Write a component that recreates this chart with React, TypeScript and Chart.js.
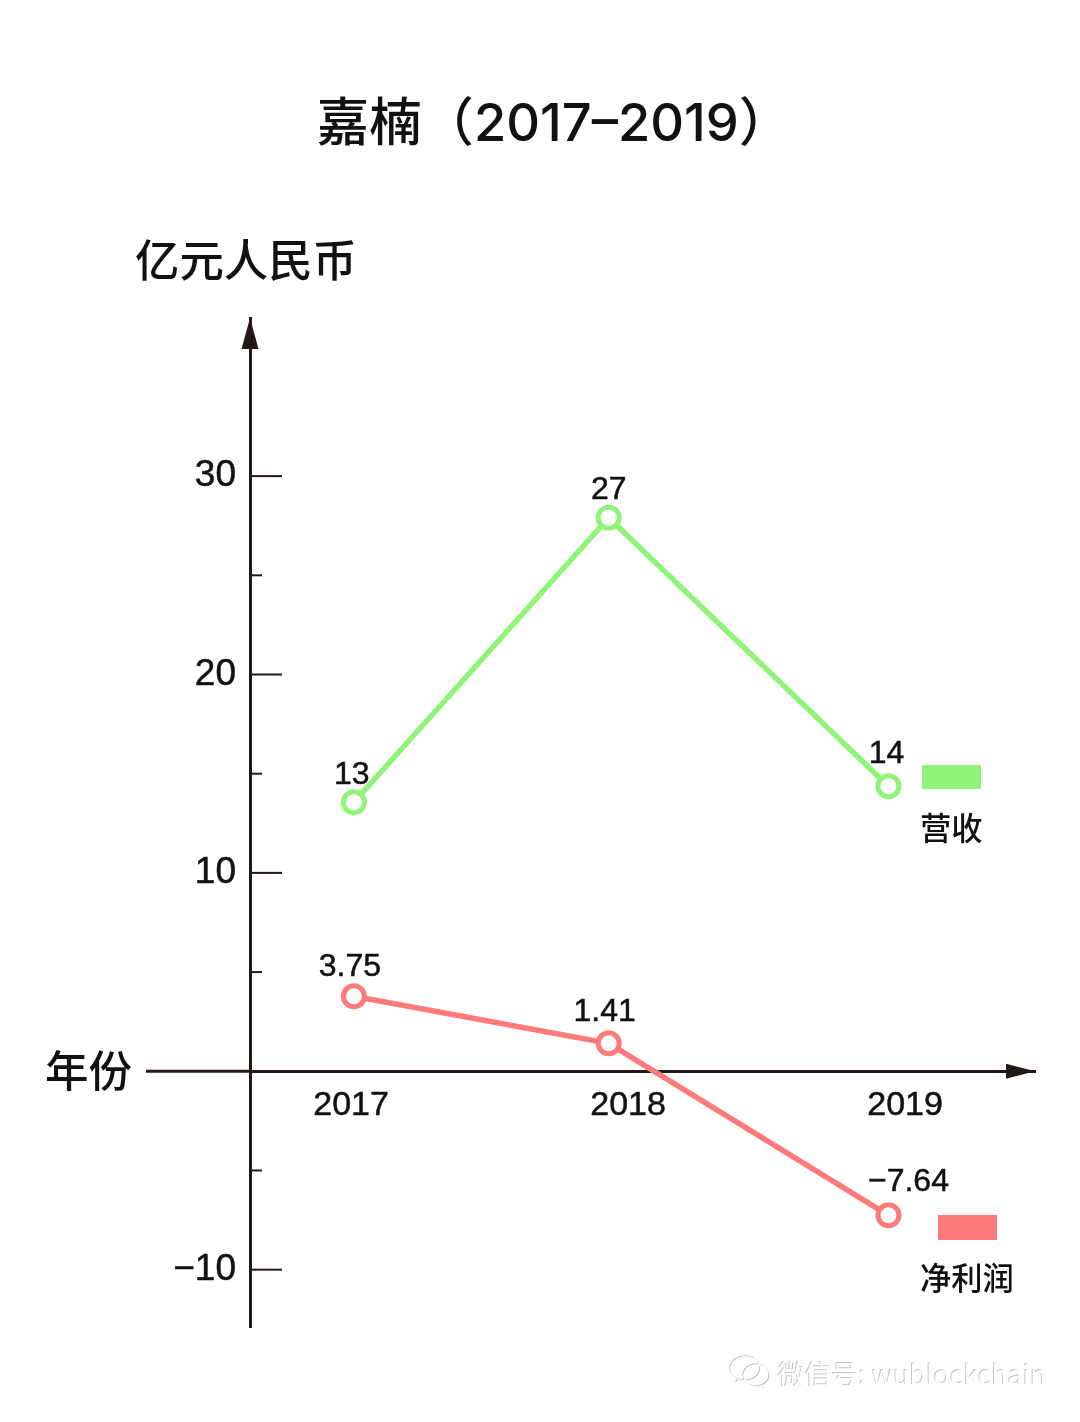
import React, { useEffect, useRef } from "react";
import { Chart, registerables } from "chart.js";

Chart.register(...registerables);

const titleText = "嘉楠（2017–2019）";
const yAxisTitle = "亿元人民币";
const xAxisTitle = "年份";
const pointYears = [2017.01, 2017.93, 2018.94];
const revenue = [13.56, 27.9, 14.37];
const profit = [3.78, 1.41, -7.26];
const revenueLabels = ["13", "27", "14"];
const profitLabels = ["3.75", "1.41", "−7.64"];
const revenueName = "营收";
const profitName = "净利润";
const yTicks = [-10, -5, 0, 5, 10, 15, 20, 25, 30];
const xTicks = [2017, 2018, 2019];
const watermark = "微信号: wublockchain";

const GREEN = "#90F47A";
const RED = "#FF7A7A";
const AXIS = "#231815";
const LATIN = '"Liberation Sans"';
const CJK = '"Noto Sans CJK SC"';

const labelOffsets = [
  [[-2, -27], [0, -28], [-2, -32]],
  [[-4, -29], [-4, -31], [20, -33]],
];

const decorations = {
  id: "decorations",
  afterDraw(chart: any) {
    const { ctx, scales, chartArea } = chart;
    const y = scales.y;
    const axisX = chartArea.left;
    const axisY = y.getPixelForValue(0);
    ctx.save();

    // title
    ctx.fillStyle = "#111";
    ctx.textBaseline = "middle";
    ctx.textAlign = "center";
    ctx.font = `500 52.4px Inter, ${CJK}`;
    ctx.fillText(titleText, 554, 125);

    // x-axis line continues left of the y axis
    ctx.strokeStyle = AXIS;
    ctx.lineWidth = 3;
    ctx.beginPath();
    ctx.moveTo(146, axisY);
    ctx.lineTo(axisX, axisY);
    ctx.stroke();

    // y-axis tick marks
    ctx.lineWidth = 2;
    y.ticks.forEach((t: any) => {
      if (t.value === 0) return;
      const py = y.getPixelForValue(t.value);
      const len = t.value % 10 === 0 ? 32 : 12;
      ctx.beginPath();
      ctx.moveTo(axisX, py);
      ctx.lineTo(axisX + len, py);
      ctx.stroke();
    });

    // axis arrowheads
    ctx.fillStyle = AXIS;
    ctx.beginPath();
    ctx.moveTo(axisX, chartArea.top);
    ctx.lineTo(axisX + 8.5, chartArea.top + 31);
    ctx.lineTo(axisX - 8.5, chartArea.top + 31);
    ctx.closePath();
    ctx.fill();
    ctx.beginPath();
    ctx.moveTo(chartArea.right, axisY);
    ctx.lineTo(chartArea.right - 29, axisY - 7.5);
    ctx.lineTo(chartArea.right - 29, axisY + 7.5);
    ctx.closePath();
    ctx.fill();

    // axis titles
    ctx.fillStyle = "#111";
    ctx.textAlign = "left";
    ctx.font = `500 44.4px ${CJK}`;
    ctx.fillText(yAxisTitle, 135, 260);
    ctx.font = `500 43.5px ${CJK}`;
    ctx.fillText(xAxisTitle, 45, 1070);

    // value labels
    ctx.font = `32px ${LATIN}, ${CJK}`;
    ctx.textAlign = "center";
    ctx.strokeStyle = "#111";
    ctx.lineWidth = 0.5;
    [revenueLabels, profitLabels].forEach((labels, di) => {
      const meta = chart.getDatasetMeta(di);
      labels.forEach((txt, i) => {
        const p = meta.data[i];
        const lx = p.x + labelOffsets[di][i][0];
        const ly = p.y + labelOffsets[di][i][1];
        ctx.fillText(txt, lx, ly);
        ctx.strokeText(txt, lx, ly);
      });
    });

    // series keys
    ctx.fillStyle = GREEN;
    ctx.fillRect(922, 765, 59, 24);
    ctx.fillStyle = RED;
    ctx.fillRect(938, 1215, 59, 25);
    ctx.fillStyle = "#111";
    ctx.textAlign = "left";
    ctx.font = `500 31.3px ${CJK}`;
    ctx.fillText(revenueName, 920, 828);
    ctx.fillText(profitName, 920, 1278);

    // watermark: embossed text and chat bubbles
    const bubble = (cx: number, cy: number, rx: number, ry: number, tx: number, ty: number) => {
      ctx.beginPath();
      ctx.ellipse(cx, cy, rx, ry, 0, 0, Math.PI * 2);
      ctx.moveTo(cx + (tx > cx ? rx * 0.45 : -rx * 0.45), cy + ry * 0.85);
      ctx.lineTo(tx, ty);
      ctx.lineTo(cx + (tx > cx ? rx * 0.05 : -rx * 0.05), cy + ry);
      ctx.stroke();
    };
    ctx.font = `26.8px ${CJK}`;
    const emboss = (color: string, dx: number, dy: number, lw: number) => {
      ctx.fillStyle = color;
      ctx.strokeStyle = color;
      ctx.lineWidth = lw;
      ctx.fillText(watermark, 778 + dx, 1375 + dy);
      bubble(746 + dx, 1369 + dy, 15, 12, 737 + dx, 1382 + dy);
      bubble(757 + dx, 1376 + dy, 13, 11, 768 + dx, 1390 + dy);
    };
    emboss("#c6c6c6", -1, -1, 1.5);
    emboss("#ffffff", 0, 0, 1.5);
    ctx.restore();
  },
};

const seriesStyle = (color: string) => ({
  borderColor: color,
  backgroundColor: "#fff",
  borderWidth: 5.5,
  pointRadius: 10.5,
  pointBorderWidth: 5,
  pointBackgroundColor: "#fff",
  pointBorderColor: color,
  tension: 0,
});

export default function App() {
  const ref = useRef<HTMLCanvasElement | null>(null);
  useEffect(() => {
    document.body.style.margin = "0";
    const chart = new Chart(ref.current as HTMLCanvasElement, {
      type: "line",
      data: {
        datasets: [
          {
            label: revenueName,
            data: pointYears.map((x, i) => ({ x, y: revenue[i] })),
            ...seriesStyle(GREEN),
          },
          {
            label: profitName,
            data: pointYears.map((x, i) => ({ x, y: profit[i] })),
            ...seriesStyle(RED),
          },
        ],
      },
      options: {
        responsive: false,
        animation: false,
        devicePixelRatio: 1,
        layout: { padding: { left: 0, right: 45, top: 318, bottom: 95 } },
        plugins: {
          legend: { display: false },
          tooltip: { enabled: false },
        },
        scales: {
          x: {
            type: "linear",
            position: { y: 0 },
            min: 2016.635,
            max: 2019.469,
            afterBuildTicks: (s: any) => {
              s.ticks = xTicks.map((value) => ({ value }));
            },
            grid: { display: false, drawTicks: false },
            border: { display: true, color: AXIS, width: 3 },
            ticks: {
              color: "#111",
              padding: 14,
              maxRotation: 0,
              autoSkip: false,
              textStrokeColor: "#111",
              textStrokeWidth: 0.5,
              font: { family: LATIN, size: 34 },
              callback: (v: any) => String(v),
            },
          },
          y: {
            type: "linear",
            position: "left",
            min: -12.89,
            max: 37.97,
            afterBuildTicks: (s: any) => {
              s.ticks = yTicks.map((value) => ({ value }));
            },
            afterFit: (s: any) => {
              s.width = 250;
            },
            grid: { display: false, drawTicks: false },
            border: { display: true, color: AXIS, width: 3 },
            ticks: {
              color: "#111",
              padding: 14,
              autoSkip: false,
              textStrokeColor: "#111",
              textStrokeWidth: 0.5,
              font: { family: LATIN, size: 37 },
              callback: (v: any) =>
                v === 0 || v % 10 !== 0 ? "" : String(v).replace("-", "−"),
            },
          },
        },
      } as any,
      plugins: [decorations],
    });
    return () => chart.destroy();
  }, []);
  return (
    <div style={{ position: "absolute", left: 0, top: 0, width: 1080, height: 1422, background: "#fff" }}>
      <canvas ref={ref} width={1080} height={1422} style={{ display: "block" }} />
    </div>
  );
}
